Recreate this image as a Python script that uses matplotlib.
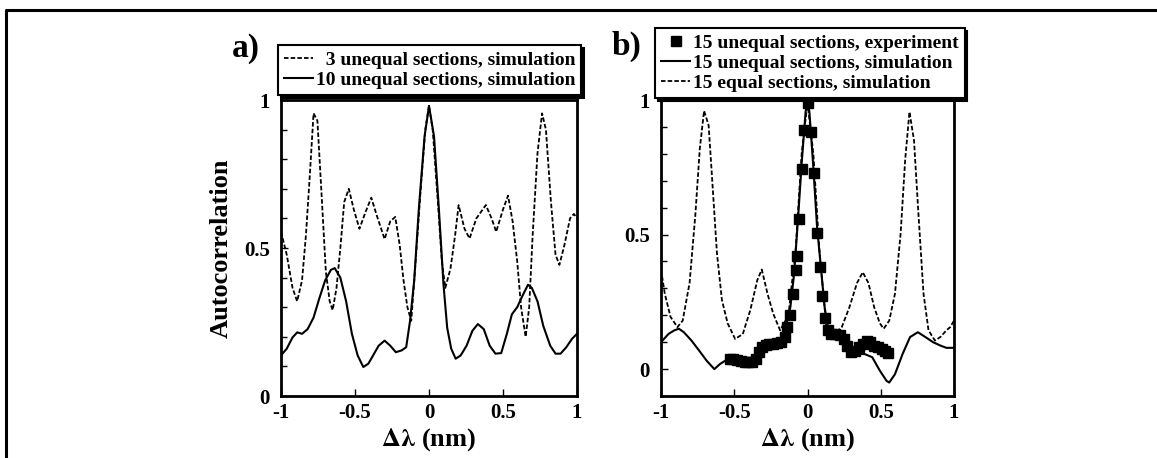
import matplotlib.pyplot as plt
from matplotlib.lines import Line2D

plt.rcParams['font.family'] = ['Liberation Serif', 'DejaVu Serif']
plt.rcParams['font.weight'] = 'bold'
plt.rcParams['mathtext.fontset'] = 'stix'

# panel a) 3 unequal sections, simulation (dashed)
a3_x = [-1.0, -0.961, -0.922, -0.891, -0.858, -0.832, -0.806, -0.78, -0.754, -0.728,
        -0.697, -0.671, -0.651, -0.625, -0.599, -0.573, -0.542, -0.508, -0.47, -0.43,
        -0.39, -0.353, -0.30, -0.262, -0.228, -0.198, -0.172, -0.146, -0.12, -0.094,
        -0.056, -0.025, 0.0, 0.025, 0.06, 0.087, 0.11, 0.145, 0.177, 0.20,
        0.24, 0.274, 0.32, 0.384, 0.423, 0.454, 0.50, 0.534, 0.565, 0.596,
        0.622, 0.653, 0.677, 0.70, 0.733, 0.764, 0.79, 0.824, 0.855, 0.881,
        0.915, 0.953, 0.979, 1.0]
a3_y = [0.555, 0.477, 0.365, 0.32, 0.39, 0.54, 0.74, 0.955, 0.93, 0.70,
        0.42, 0.32, 0.29, 0.365, 0.50, 0.655, 0.70, 0.63, 0.565, 0.62,
        0.67, 0.61, 0.53, 0.59, 0.605, 0.51, 0.39, 0.30, 0.254, 0.43,
        0.70, 0.90, 0.98, 0.90, 0.655, 0.455, 0.365, 0.43, 0.545, 0.645,
        0.565, 0.532, 0.60, 0.645, 0.60, 0.555, 0.63, 0.677, 0.59, 0.455,
        0.30, 0.20, 0.30, 0.54, 0.82, 0.955, 0.90, 0.655, 0.477, 0.443,
        0.51, 0.60, 0.615, 0.60]

# panel a) 10 unequal sections, simulation (solid)
a10_x = [-1.0, -0.961, -0.922, -0.89, -0.858, -0.82, -0.78, -0.741, -0.702, -0.663,
         -0.637, -0.599, -0.56, -0.521, -0.482, -0.444, -0.41, -0.371, -0.34, -0.30,
         -0.262, -0.224, -0.185, -0.154, -0.128, -0.10, -0.069, -0.03, 0.0, 0.034,
         0.067, 0.098, 0.123, 0.15, 0.18, 0.214, 0.254, 0.293, 0.33, 0.37,
         0.41, 0.449, 0.488, 0.526, 0.56, 0.596, 0.63, 0.669, 0.695, 0.733,
         0.772, 0.819, 0.855, 0.889, 0.928, 0.966, 1.0]
a10_y = [0.137, 0.16, 0.198, 0.215, 0.21, 0.226, 0.265, 0.33, 0.39, 0.426,
         0.432, 0.40, 0.32, 0.21, 0.137, 0.098, 0.109, 0.143, 0.17, 0.187,
         0.17, 0.148, 0.154, 0.165, 0.254, 0.39, 0.63, 0.877, 0.98, 0.877,
         0.63, 0.376, 0.23, 0.16, 0.126, 0.137, 0.17, 0.22, 0.243, 0.226,
         0.17, 0.143, 0.145, 0.21, 0.276, 0.30, 0.337, 0.376, 0.365, 0.32,
         0.237, 0.17, 0.143, 0.143, 0.165, 0.193, 0.21]

# panel b) 15 equal sections, simulation (dashed)
b15e_x = [-1.0, -0.974, -0.935, -0.888, -0.852, -0.805, -0.766, -0.735, -0.706, -0.675,
          -0.649, -0.618, -0.584, -0.545, -0.494, -0.442, -0.39, -0.343, -0.312, -0.273,
          -0.234, -0.187, -0.13, -0.08, -0.04, 0.0, 0.04, 0.08, 0.13, 0.18,
          0.234, 0.286, 0.338, 0.377, 0.416, 0.455, 0.494, 0.52, 0.558, 0.597,
          0.636, 0.667, 0.696, 0.727, 0.758, 0.792, 0.826, 0.87, 0.909, 0.948,
          0.974, 1.0]
b15e_y = [0.37, 0.28, 0.194, 0.156, 0.18, 0.32, 0.57, 0.82, 0.96, 0.906,
          0.69, 0.43, 0.256, 0.17, 0.112, 0.13, 0.22, 0.33, 0.37, 0.28,
          0.206, 0.144, 0.20, 0.45, 0.80, 0.99, 0.80, 0.45, 0.15, 0.13,
          0.156, 0.23, 0.32, 0.36, 0.32, 0.23, 0.17, 0.15, 0.18, 0.28,
          0.506, 0.78, 0.956, 0.85, 0.57, 0.28, 0.144, 0.106, 0.12, 0.144,
          0.156, 0.18]

# panel b) 15 unequal sections, simulation (solid)
b15u_x = [-1.0, -0.948, -0.909, -0.878, -0.844, -0.792, -0.74, -0.688, -0.636, -0.597,
          -0.545, -0.494, -0.442, -0.39, -0.338, -0.286, -0.234, -0.182, -0.143, -0.117,
          -0.091, -0.065, -0.039, -0.013, 0.0, 0.013, 0.039, 0.065, 0.091, 0.117,
          0.143, 0.182, 0.234, 0.286, 0.338, 0.39, 0.442, 0.494, 0.54, 0.558,
          0.597, 0.649, 0.70, 0.753, 0.805, 0.857, 0.909, 0.948, 1.0]
b15u_y = [0.10, 0.131, 0.144, 0.15, 0.137, 0.106, 0.069, 0.031, 0.0, 0.019,
          0.037, 0.034, 0.031, 0.031, 0.056, 0.087, 0.094, 0.106, 0.169, 0.23,
          0.356, 0.556, 0.77, 0.956, 0.995, 0.956, 0.756, 0.53, 0.38, 0.23,
          0.144, 0.119, 0.106, 0.075, 0.056, 0.056, 0.044, -0.006, -0.044, -0.05,
          -0.019, 0.056, 0.119, 0.137, 0.119, 0.10, 0.087, 0.079, 0.079]

# panel b) 15 unequal sections, experiment (squares)
exp_x = [-0.532, -0.506, -0.48, -0.455, -0.429, -0.403, -0.377, -0.351, -0.332, -0.312,
         -0.286, -0.26, -0.234, -0.208, -0.182, -0.156, -0.143, -0.117, -0.096, -0.078,
         -0.07, -0.057, -0.039, -0.026, 0.0, 0.026, 0.047, 0.068, 0.083, 0.099,
         0.117, 0.143, 0.161, 0.187, 0.221, 0.247, 0.273, 0.299, 0.325, 0.351,
         0.377, 0.403, 0.429, 0.455, 0.481, 0.506, 0.532, 0.55]
exp_y = [0.037, 0.037, 0.034, 0.031, 0.025, 0.025, 0.028, 0.037, 0.062, 0.081,
         0.091, 0.094, 0.094, 0.096, 0.10, 0.119, 0.156, 0.20, 0.28, 0.37,
         0.42, 0.556, 0.744, 0.887, 0.99, 0.88, 0.73, 0.506, 0.38, 0.27,
         0.19, 0.144, 0.131, 0.131, 0.125, 0.112, 0.087, 0.062, 0.069, 0.081,
         0.094, 0.106, 0.10, 0.087, 0.081, 0.075, 0.066, 0.06]

xticks = [-1, -0.5, 0, 0.5, 1]
xtick_labels = ['-1', '-0.5', '0', '0.5', '1']
yticks = [0, 0.5, 1]
ytick_labels = ['0', '0.5', '1']

W, H = 1157, 458
fig = plt.figure(figsize=(W / 100, H / 100), dpi=100)

# outer frame (top and left edges)
fig.add_artist(Line2D([6 / W, 6 / W, 1.0], [0.0, 1 - 10 / H, 1 - 10 / H],
                      transform=fig.transFigure, color='k', lw=2.2))

bot = (H - 396) / H
hgt = (396 - 100) / H
ax1 = fig.add_axes([281 / W, bot, (577 - 281) / W, hgt])
ax2 = fig.add_axes([661 / W, bot, (954 - 661) / W, hgt])

dash = (0, (2.5, 1.2))

ax1.plot(a3_x, a3_y, color='k', lw=1.3, ls=dash, label='  3 unequal sections, simulation')
ax1.plot(a10_x, a10_y, color='k', lw=1.5, label='10 unequal sections, simulation')

ax2.plot(exp_x, exp_y, 's', color='k', ms=6.5, label='15 unequal sections, experiment')
ax2.plot(b15u_x, b15u_y, color='k', lw=1.5, label='15 unequal sections, simulation')
ax2.plot(b15e_x, b15e_y, color='k', lw=1.3, ls=dash, label='15 equal sections, simulation')

for ax, ylo in ((ax1, 0.0), (ax2, -0.1)):
    ax.set_xticks(xticks)
    ax.set_xticklabels(xtick_labels)
    ax.set_yticks(yticks)
    ax.set_yticklabels(ytick_labels)
    ax.set_yticks([v / 10 for v in range(int(round(ylo * 10)), 11)], minor=True)
    ax.set_xlim(-1, 1)
    ax.set_ylim(ylo, 1.0)
    ax.tick_params(axis='both', which='both', direction='in', labelsize=15)
    ax.tick_params(axis='x', pad=5)
    ax.tick_params(axis='y', pad=8)
    ax.tick_params(which='major', length=5, width=1)
    ax.tick_params(which='minor', length=4, width=1)
    for sp in ax.spines.values():
        sp.set_linewidth(2)
    for lab in ax.get_xticklabels() + ax.get_yticklabels():
        lab.set_fontweight('bold')
    ax.set_xlabel(r'$\mathbf{\Delta\lambda}$ (nm)', fontsize=19, fontweight='bold', labelpad=2)

ax1.set_ylabel('Autocorrelation', fontsize=19, fontweight='bold', labelpad=8)

leg_kw = dict(loc='upper left', frameon=True, fancybox=False,
              handlelength=1.45, handletextpad=0.15, borderpad=0.33, labelspacing=0.12,
              borderaxespad=0, shadow={'color': 'k', 'alpha': 1.0},
              prop={'weight': 'bold', 'size': 14})
leg1 = ax1.legend(bbox_to_anchor=(278 / W, 1 - 45 / H), bbox_transform=fig.transFigure, **leg_kw)
leg2 = ax2.legend(bbox_to_anchor=(655 / W, 1 - 28 / H), bbox_transform=fig.transFigure, **leg_kw)
for leg in (leg1, leg2):
    leg.get_frame().set_edgecolor('k')
    leg.get_frame().set_linewidth(1.5)
    leg.get_frame().set_alpha(1)

fig.text(232 / W, 1 - 48 / H, 'a)', fontsize=24, fontweight='bold', ha='left', va='center')
fig.text(612 / W, 1 - 46 / H, 'b)', fontsize=24, fontweight='bold', ha='left', va='center')

fig.savefig('out.png', dpi=100)
